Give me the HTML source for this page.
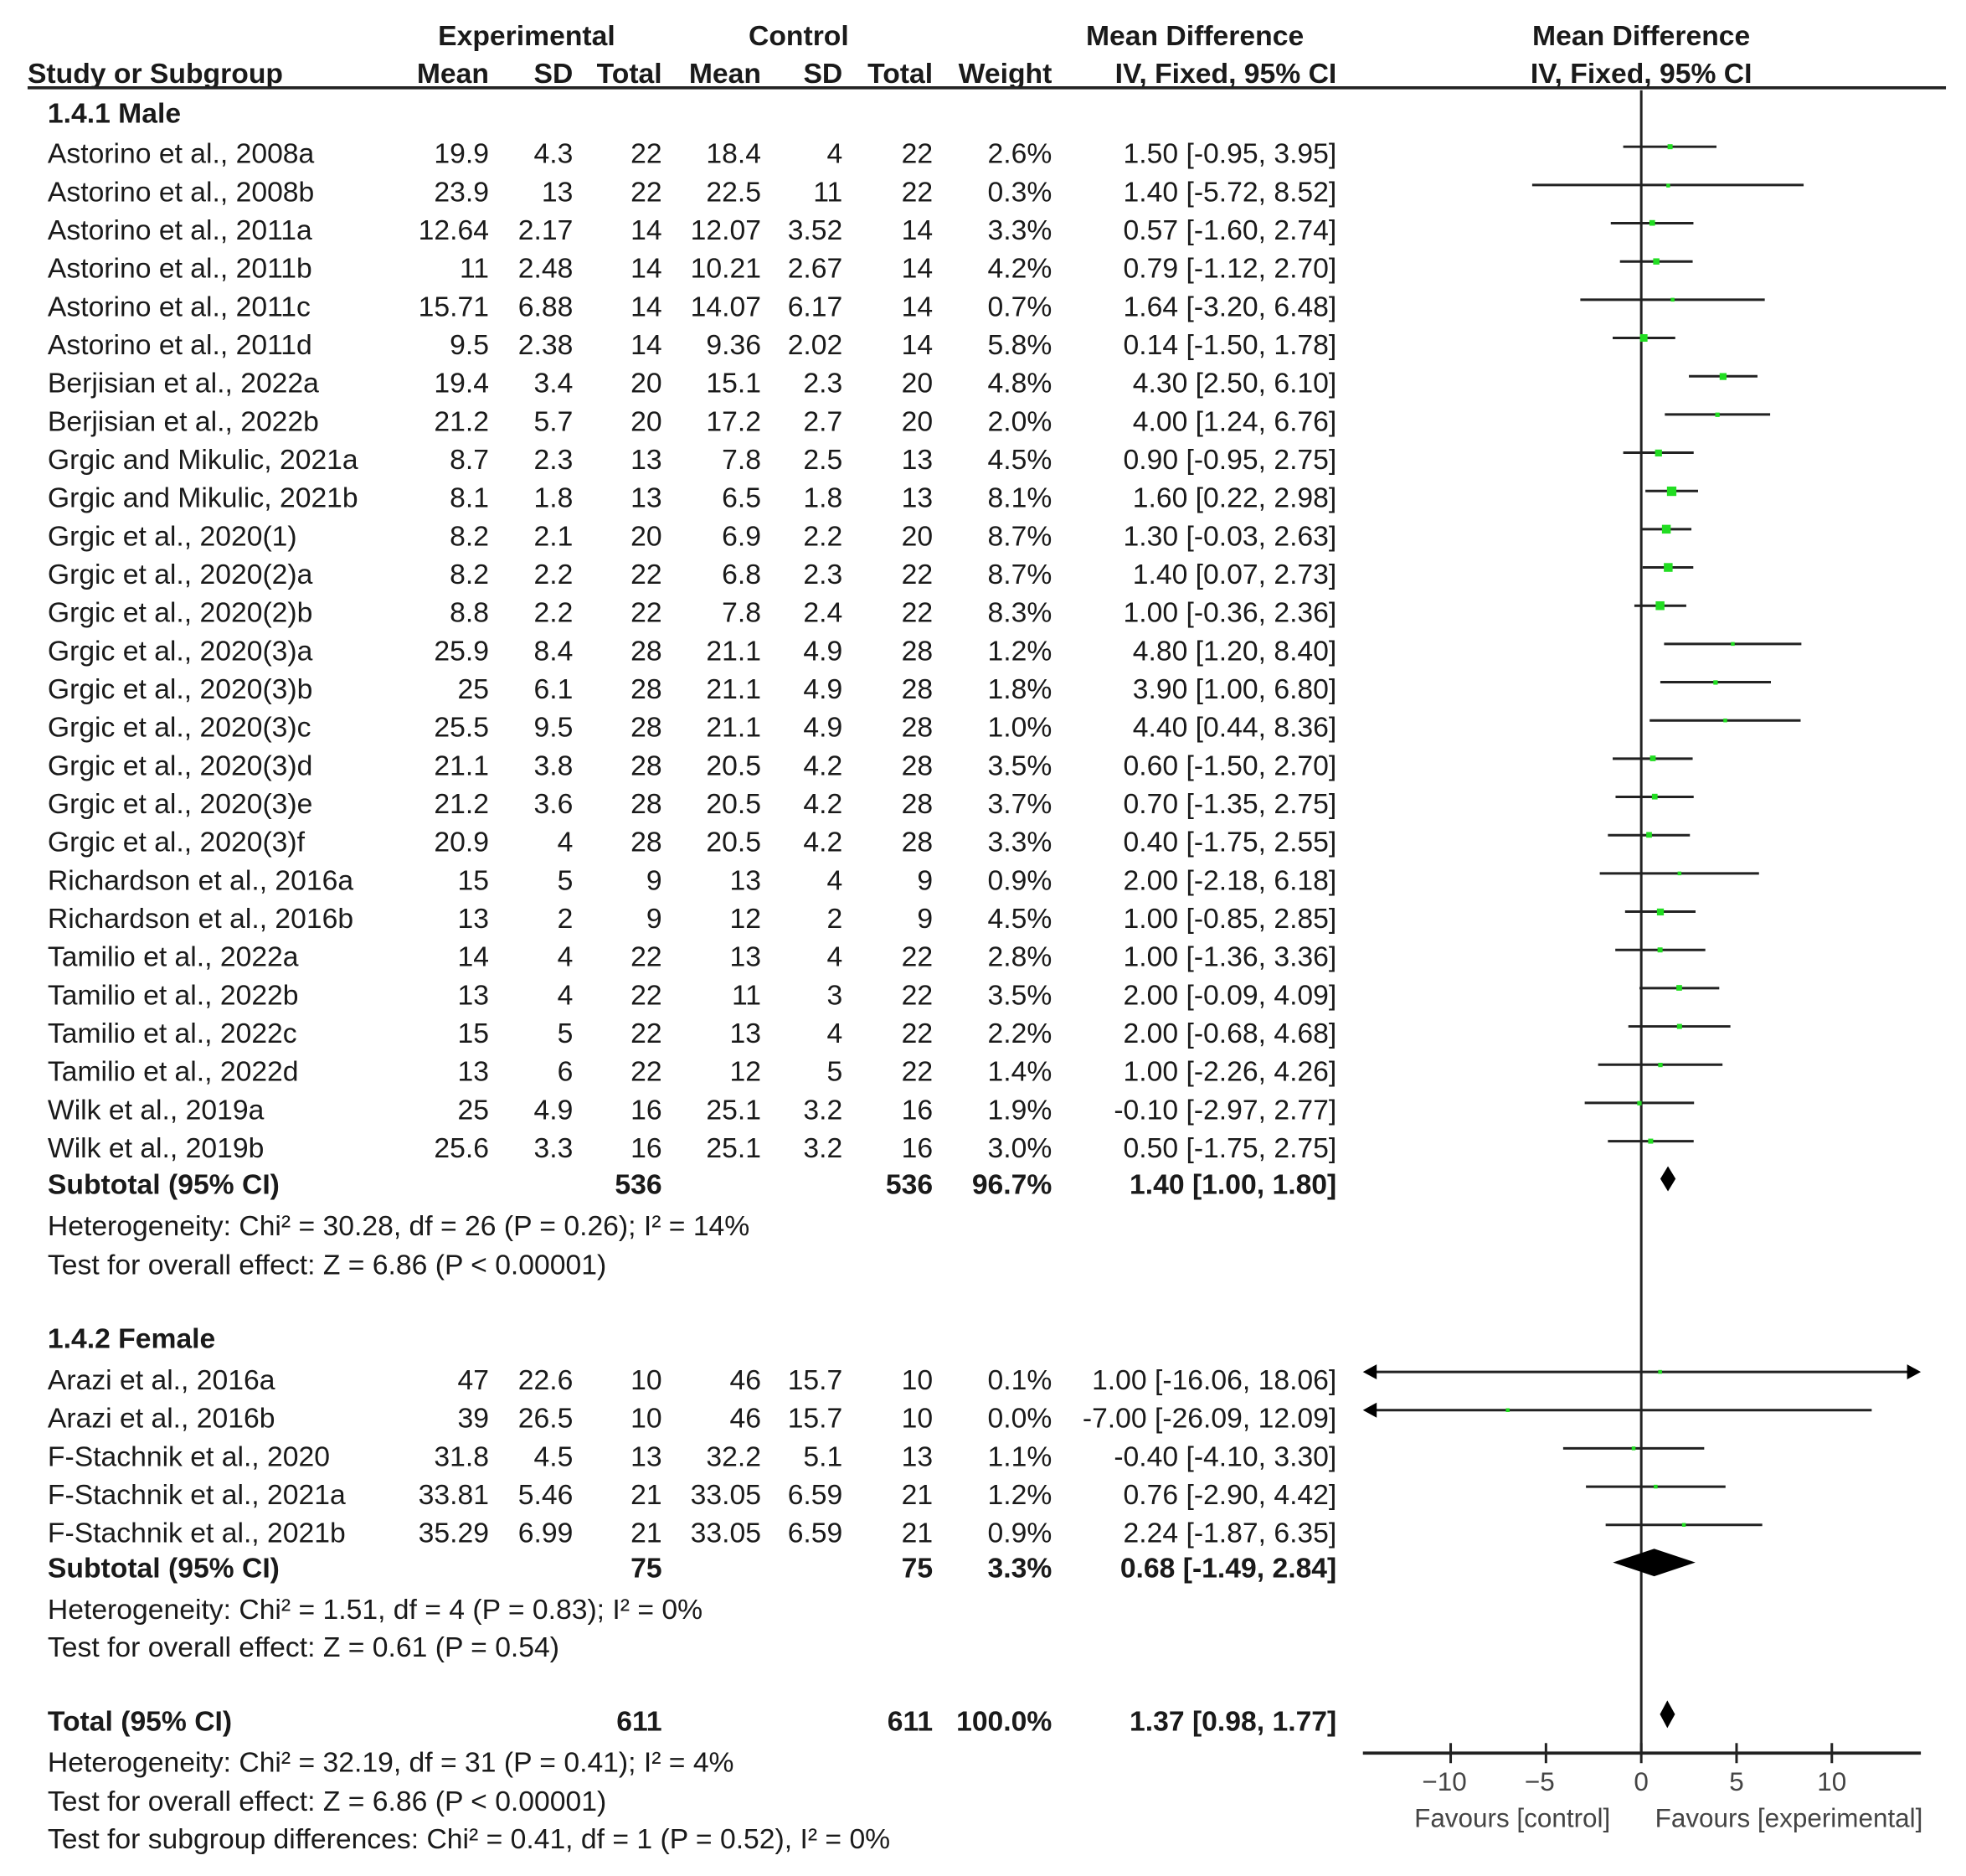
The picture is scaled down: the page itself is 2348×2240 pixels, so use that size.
<!DOCTYPE html>
<html><head><meta charset="utf-8"><style>
html,body{margin:0;padding:0;background:#fff;}
svg{display:block;}
text{font-family:"Liberation Sans",Arial,sans-serif;font-size:22.5px;fill:#1a1a1a;}
.b{font-weight:bold;}
.e{text-anchor:end;}
.m{text-anchor:middle;}
.ln{stroke:#222;stroke-width:2;}
.sq{fill:#22dd22;}
.ax{fill:#444;font-size:21px;}
</style></head><body>
<svg width="2348" height="2240" viewBox="0 0 1568 1496" preserveAspectRatio="none" xmlns="http://www.w3.org/2000/svg">
<text class="b m" x="420" y="36">Experimental</text>
<text class="b m" x="637" y="36">Control</text>
<text class="b m" x="953" y="36">Mean Difference</text>
<text class="b m" x="1309" y="36">Mean Difference</text>
<text class="b" x="22" y="66">Study or Subgroup</text>
<text class="b e" x="390" y="66">Mean</text>
<text class="b e" x="457" y="66">SD</text>
<text class="b e" x="528" y="66">Total</text>
<text class="b e" x="607" y="66">Mean</text>
<text class="b e" x="672" y="66">SD</text>
<text class="b e" x="744" y="66">Total</text>
<text class="b e" x="839" y="66">Weight</text>
<text class="b e" x="1066" y="66">IV, Fixed, 95% CI</text>
<text class="b m" x="1309" y="66">IV, Fixed, 95% CI</text>
<line x1="22" y1="70" x2="1552" y2="70" stroke="#222" stroke-width="2.5"/>
<line x1="1309" y1="72" x2="1309" y2="1398" class="ln"/>
<text class="b" x="38" y="98">1.4.1 Male</text>

<g transform="translate(0,122)"><text x="38" y="8">Astorino et al., 2008a</text><text class="e" x="390" y="8">19.9</text><text class="e" x="457" y="8">4.3</text><text class="e" x="528" y="8">22</text><text class="e" x="607" y="8">18.4</text><text class="e" x="672" y="8">4</text><text class="e" x="744" y="8">22</text><text class="e" x="839" y="8">2.6%</text><text class="e" x="1066" y="8">1.50 [-0.95, 3.95]</text><line class="ln" x1="1294.6" x2="1369" y1="-5" y2="-5"/><rect class="sq" x="1330" y="-7" width="4" height="4"/></g>
<g transform="translate(0,152.5)"><text x="38" y="8">Astorino et al., 2008b</text><text class="e" x="390" y="8">23.9</text><text class="e" x="457" y="8">13</text><text class="e" x="528" y="8">22</text><text class="e" x="607" y="8">22.5</text><text class="e" x="672" y="8">11</text><text class="e" x="744" y="8">22</text><text class="e" x="839" y="8">0.3%</text><text class="e" x="1066" y="8">1.40 [-5.72, 8.52]</text><line class="ln" x1="1222" x2="1438.5" y1="-5" y2="-5"/><rect class="sq" x="1329" y="-6" width="3" height="3"/></g>
<g transform="translate(0,183)"><text x="38" y="8">Astorino et al., 2011a</text><text class="e" x="390" y="8">12.64</text><text class="e" x="457" y="8">2.17</text><text class="e" x="528" y="8">14</text><text class="e" x="607" y="8">12.07</text><text class="e" x="672" y="8">3.52</text><text class="e" x="744" y="8">14</text><text class="e" x="839" y="8">3.3%</text><text class="e" x="1066" y="8">0.57 [-1.60, 2.74]</text><line class="ln" x1="1284.7" x2="1350.6" y1="-5" y2="-5"/><rect class="sq" x="1315.5" y="-7.5" width="4.5" height="4.5"/></g>
<g transform="translate(0,213.5)"><text x="38" y="8">Astorino et al., 2011b</text><text class="e" x="390" y="8">11</text><text class="e" x="457" y="8">2.48</text><text class="e" x="528" y="8">14</text><text class="e" x="607" y="8">10.21</text><text class="e" x="672" y="8">2.67</text><text class="e" x="744" y="8">14</text><text class="e" x="839" y="8">4.2%</text><text class="e" x="1066" y="8">0.79 [-1.12, 2.70]</text><line class="ln" x1="1292" x2="1350" y1="-5" y2="-5"/><rect class="sq" x="1318.5" y="-7.5" width="5" height="5"/></g>
<g transform="translate(0,244)"><text x="38" y="8">Astorino et al., 2011c</text><text class="e" x="390" y="8">15.71</text><text class="e" x="457" y="8">6.88</text><text class="e" x="528" y="8">14</text><text class="e" x="607" y="8">14.07</text><text class="e" x="672" y="8">6.17</text><text class="e" x="744" y="8">14</text><text class="e" x="839" y="8">0.7%</text><text class="e" x="1066" y="8">1.64 [-3.20, 6.48]</text><line class="ln" x1="1260.4" x2="1407.5" y1="-5" y2="-5"/><rect class="sq" x="1332.5" y="-6.5" width="3" height="3"/></g>
<g transform="translate(0,274.5)"><text x="38" y="8">Astorino et al., 2011d</text><text class="e" x="390" y="8">9.5</text><text class="e" x="457" y="8">2.38</text><text class="e" x="528" y="8">14</text><text class="e" x="607" y="8">9.36</text><text class="e" x="672" y="8">2.02</text><text class="e" x="744" y="8">14</text><text class="e" x="839" y="8">5.8%</text><text class="e" x="1066" y="8">0.14 [-1.50, 1.78]</text><line class="ln" x1="1286.2" x2="1336.1" y1="-5" y2="-5"/><rect class="sq" x="1308" y="-8" width="6" height="6"/></g>
<g transform="translate(0,305)"><text x="38" y="8">Berjisian et al., 2022a</text><text class="e" x="390" y="8">19.4</text><text class="e" x="457" y="8">3.4</text><text class="e" x="528" y="8">20</text><text class="e" x="607" y="8">15.1</text><text class="e" x="672" y="8">2.3</text><text class="e" x="744" y="8">20</text><text class="e" x="839" y="8">4.8%</text><text class="e" x="1066" y="8">4.30 [2.50, 6.10]</text><line class="ln" x1="1347" x2="1401.7" y1="-5" y2="-5"/><rect class="sq" x="1371.5" y="-7.5" width="5.5" height="5.5"/></g>
<g transform="translate(0,335.5)"><text x="38" y="8">Berjisian et al., 2022b</text><text class="e" x="390" y="8">21.2</text><text class="e" x="457" y="8">5.7</text><text class="e" x="528" y="8">20</text><text class="e" x="607" y="8">17.2</text><text class="e" x="672" y="8">2.7</text><text class="e" x="744" y="8">20</text><text class="e" x="839" y="8">2.0%</text><text class="e" x="1066" y="8">4.00 [1.24, 6.76]</text><line class="ln" x1="1327.8" x2="1411.8" y1="-5" y2="-5"/><rect class="sq" x="1368" y="-6.5" width="3.5" height="3.5"/></g>
<g transform="translate(0,366)"><text x="38" y="8">Grgic and Mikulic, 2021a</text><text class="e" x="390" y="8">8.7</text><text class="e" x="457" y="8">2.3</text><text class="e" x="528" y="8">13</text><text class="e" x="607" y="8">7.8</text><text class="e" x="672" y="8">2.5</text><text class="e" x="744" y="8">13</text><text class="e" x="839" y="8">4.5%</text><text class="e" x="1066" y="8">0.90 [-0.95, 2.75]</text><line class="ln" x1="1294.6" x2="1350.8" y1="-5" y2="-5"/><rect class="sq" x="1320" y="-7.5" width="5.5" height="5.5"/></g>
<g transform="translate(0,396.5)"><text x="38" y="8">Grgic and Mikulic, 2021b</text><text class="e" x="390" y="8">8.1</text><text class="e" x="457" y="8">1.8</text><text class="e" x="528" y="8">13</text><text class="e" x="607" y="8">6.5</text><text class="e" x="672" y="8">1.8</text><text class="e" x="744" y="8">13</text><text class="e" x="839" y="8">8.1%</text><text class="e" x="1066" y="8">1.60 [0.22, 2.98]</text><line class="ln" x1="1312.3" x2="1354.3" y1="-5" y2="-5"/><rect class="sq" x="1329.5" y="-8.5" width="7.5" height="7.5"/></g>
<g transform="translate(0,427)"><text x="38" y="8">Grgic et al., 2020(1)</text><text class="e" x="390" y="8">8.2</text><text class="e" x="457" y="8">2.1</text><text class="e" x="528" y="8">20</text><text class="e" x="607" y="8">6.9</text><text class="e" x="672" y="8">2.2</text><text class="e" x="744" y="8">20</text><text class="e" x="839" y="8">8.7%</text><text class="e" x="1066" y="8">1.30 [-0.03, 2.63]</text><line class="ln" x1="1308.5" x2="1349" y1="-5" y2="-5"/><rect class="sq" x="1325.5" y="-8.5" width="7" height="7"/></g>
<g transform="translate(0,457.5)"><text x="38" y="8">Grgic et al., 2020(2)a</text><text class="e" x="390" y="8">8.2</text><text class="e" x="457" y="8">2.2</text><text class="e" x="528" y="8">22</text><text class="e" x="607" y="8">6.8</text><text class="e" x="672" y="8">2.3</text><text class="e" x="744" y="8">22</text><text class="e" x="839" y="8">8.7%</text><text class="e" x="1066" y="8">1.40 [0.07, 2.73]</text><line class="ln" x1="1310.1" x2="1350.5" y1="-5" y2="-5"/><rect class="sq" x="1327" y="-8.5" width="7" height="7"/></g>
<g transform="translate(0,488)"><text x="38" y="8">Grgic et al., 2020(2)b</text><text class="e" x="390" y="8">8.8</text><text class="e" x="457" y="8">2.2</text><text class="e" x="528" y="8">22</text><text class="e" x="607" y="8">7.8</text><text class="e" x="672" y="8">2.4</text><text class="e" x="744" y="8">22</text><text class="e" x="839" y="8">8.3%</text><text class="e" x="1066" y="8">1.00 [-0.36, 2.36]</text><line class="ln" x1="1303.5" x2="1344.9" y1="-5" y2="-5"/><rect class="sq" x="1320.5" y="-8.5" width="7" height="7"/></g>
<g transform="translate(0,518.5)"><text x="38" y="8">Grgic et al., 2020(3)a</text><text class="e" x="390" y="8">25.9</text><text class="e" x="457" y="8">8.4</text><text class="e" x="528" y="8">28</text><text class="e" x="607" y="8">21.1</text><text class="e" x="672" y="8">4.9</text><text class="e" x="744" y="8">28</text><text class="e" x="839" y="8">1.2%</text><text class="e" x="1066" y="8">4.80 [1.20, 8.40]</text><line class="ln" x1="1327.2" x2="1436.7" y1="-5" y2="-5"/><rect class="sq" x="1380.5" y="-6.5" width="3" height="3"/></g>
<g transform="translate(0,549)"><text x="38" y="8">Grgic et al., 2020(3)b</text><text class="e" x="390" y="8">25</text><text class="e" x="457" y="8">6.1</text><text class="e" x="528" y="8">28</text><text class="e" x="607" y="8">21.1</text><text class="e" x="672" y="8">4.9</text><text class="e" x="744" y="8">28</text><text class="e" x="839" y="8">1.8%</text><text class="e" x="1066" y="8">3.90 [1.00, 6.80]</text><line class="ln" x1="1324.2" x2="1412.4" y1="-5" y2="-5"/><rect class="sq" x="1366.5" y="-6.5" width="3.5" height="3.5"/></g>
<g transform="translate(0,579.5)"><text x="38" y="8">Grgic et al., 2020(3)c</text><text class="e" x="390" y="8">25.5</text><text class="e" x="457" y="8">9.5</text><text class="e" x="528" y="8">28</text><text class="e" x="607" y="8">21.1</text><text class="e" x="672" y="8">4.9</text><text class="e" x="744" y="8">28</text><text class="e" x="839" y="8">1.0%</text><text class="e" x="1066" y="8">4.40 [0.44, 8.36]</text><line class="ln" x1="1315.7" x2="1436.1" y1="-5" y2="-5"/><rect class="sq" x="1374.5" y="-6.5" width="3" height="3"/></g>
<g transform="translate(0,610)"><text x="38" y="8">Grgic et al., 2020(3)d</text><text class="e" x="390" y="8">21.1</text><text class="e" x="457" y="8">3.8</text><text class="e" x="528" y="8">28</text><text class="e" x="607" y="8">20.5</text><text class="e" x="672" y="8">4.2</text><text class="e" x="744" y="8">28</text><text class="e" x="839" y="8">3.5%</text><text class="e" x="1066" y="8">0.60 [-1.50, 2.70]</text><line class="ln" x1="1286.2" x2="1350" y1="-5" y2="-5"/><rect class="sq" x="1316" y="-7.5" width="4.5" height="4.5"/></g>
<g transform="translate(0,640.5)"><text x="38" y="8">Grgic et al., 2020(3)e</text><text class="e" x="390" y="8">21.2</text><text class="e" x="457" y="8">3.6</text><text class="e" x="528" y="8">28</text><text class="e" x="607" y="8">20.5</text><text class="e" x="672" y="8">4.2</text><text class="e" x="744" y="8">28</text><text class="e" x="839" y="8">3.7%</text><text class="e" x="1066" y="8">0.70 [-1.35, 2.75]</text><line class="ln" x1="1288.5" x2="1350.8" y1="-5" y2="-5"/><rect class="sq" x="1317.5" y="-7.5" width="4.5" height="4.5"/></g>
<g transform="translate(0,671)"><text x="38" y="8">Grgic et al., 2020(3)f</text><text class="e" x="390" y="8">20.9</text><text class="e" x="457" y="8">4</text><text class="e" x="528" y="8">28</text><text class="e" x="607" y="8">20.5</text><text class="e" x="672" y="8">4.2</text><text class="e" x="744" y="8">28</text><text class="e" x="839" y="8">3.3%</text><text class="e" x="1066" y="8">0.40 [-1.75, 2.55]</text><line class="ln" x1="1282.4" x2="1347.8" y1="-5" y2="-5"/><rect class="sq" x="1313" y="-7.5" width="4.5" height="4.5"/></g>
<g transform="translate(0,701.5)"><text x="38" y="8">Richardson et al., 2016a</text><text class="e" x="390" y="8">15</text><text class="e" x="457" y="8">5</text><text class="e" x="528" y="8">9</text><text class="e" x="607" y="8">13</text><text class="e" x="672" y="8">4</text><text class="e" x="744" y="8">9</text><text class="e" x="839" y="8">0.9%</text><text class="e" x="1066" y="8">2.00 [-2.18, 6.18]</text><line class="ln" x1="1275.9" x2="1402.9" y1="-5" y2="-5"/><rect class="sq" x="1338" y="-6.5" width="3" height="3"/></g>
<g transform="translate(0,732)"><text x="38" y="8">Richardson et al., 2016b</text><text class="e" x="390" y="8">13</text><text class="e" x="457" y="8">2</text><text class="e" x="528" y="8">9</text><text class="e" x="607" y="8">12</text><text class="e" x="672" y="8">2</text><text class="e" x="744" y="8">9</text><text class="e" x="839" y="8">4.5%</text><text class="e" x="1066" y="8">1.00 [-0.85, 2.85]</text><line class="ln" x1="1296.1" x2="1352.3" y1="-5" y2="-5"/><rect class="sq" x="1321.5" y="-7.5" width="5.5" height="5.5"/></g>
<g transform="translate(0,762.5)"><text x="38" y="8">Tamilio et al., 2022a</text><text class="e" x="390" y="8">14</text><text class="e" x="457" y="8">4</text><text class="e" x="528" y="8">22</text><text class="e" x="607" y="8">13</text><text class="e" x="672" y="8">4</text><text class="e" x="744" y="8">22</text><text class="e" x="839" y="8">2.8%</text><text class="e" x="1066" y="8">1.00 [-1.36, 3.36]</text><line class="ln" x1="1288.3" x2="1360.1" y1="-5" y2="-5"/><rect class="sq" x="1322" y="-7" width="4" height="4"/></g>
<g transform="translate(0,793)"><text x="38" y="8">Tamilio et al., 2022b</text><text class="e" x="390" y="8">13</text><text class="e" x="457" y="8">4</text><text class="e" x="528" y="8">22</text><text class="e" x="607" y="8">11</text><text class="e" x="672" y="8">3</text><text class="e" x="744" y="8">22</text><text class="e" x="839" y="8">3.5%</text><text class="e" x="1066" y="8">2.00 [-0.09, 4.09]</text><line class="ln" x1="1307.6" x2="1371.2" y1="-5" y2="-5"/><rect class="sq" x="1337" y="-7.5" width="4.5" height="4.5"/></g>
<g transform="translate(0,823.5)"><text x="38" y="8">Tamilio et al., 2022c</text><text class="e" x="390" y="8">15</text><text class="e" x="457" y="8">5</text><text class="e" x="528" y="8">22</text><text class="e" x="607" y="8">13</text><text class="e" x="672" y="8">4</text><text class="e" x="744" y="8">22</text><text class="e" x="839" y="8">2.2%</text><text class="e" x="1066" y="8">2.00 [-0.68, 4.68]</text><line class="ln" x1="1298.7" x2="1380.1" y1="-5" y2="-5"/><rect class="sq" x="1337.5" y="-7" width="4" height="4"/></g>
<g transform="translate(0,854)"><text x="38" y="8">Tamilio et al., 2022d</text><text class="e" x="390" y="8">13</text><text class="e" x="457" y="8">6</text><text class="e" x="528" y="8">22</text><text class="e" x="607" y="8">12</text><text class="e" x="672" y="8">5</text><text class="e" x="744" y="8">22</text><text class="e" x="839" y="8">1.4%</text><text class="e" x="1066" y="8">1.00 [-2.26, 4.26]</text><line class="ln" x1="1274.6" x2="1373.8" y1="-5" y2="-5"/><rect class="sq" x="1322.5" y="-6.5" width="3.5" height="3.5"/></g>
<g transform="translate(0,884.5)"><text x="38" y="8">Wilk et al., 2019a</text><text class="e" x="390" y="8">25</text><text class="e" x="457" y="8">4.9</text><text class="e" x="528" y="8">16</text><text class="e" x="607" y="8">25.1</text><text class="e" x="672" y="8">3.2</text><text class="e" x="744" y="8">16</text><text class="e" x="839" y="8">1.9%</text><text class="e" x="1066" y="8">-0.10 [-2.97, 2.77]</text><line class="ln" x1="1263.9" x2="1351.1" y1="-5" y2="-5"/><rect class="sq" x="1305.8" y="-6.5" width="3.5" height="3.5"/></g>
<g transform="translate(0,915)"><text x="38" y="8">Wilk et al., 2019b</text><text class="e" x="390" y="8">25.6</text><text class="e" x="457" y="8">3.3</text><text class="e" x="528" y="8">16</text><text class="e" x="607" y="8">25.1</text><text class="e" x="672" y="8">3.2</text><text class="e" x="744" y="8">16</text><text class="e" x="839" y="8">3.0%</text><text class="e" x="1066" y="8">0.50 [-1.75, 2.75]</text><line class="ln" x1="1282.4" x2="1350.8" y1="-5" y2="-5"/><rect class="sq" x="1314.5" y="-7" width="4" height="4"/></g>

<text class="b" x="38" y="952">Subtotal (95% CI)</text>
<text class="b e" x="528" y="952">536</text>
<text class="b e" x="744" y="952">536</text>
<text class="b e" x="839" y="952">96.7%</text>
<text class="b e" x="1066" y="952">1.40 [1.00, 1.80]</text>
<polygon points="1324.2,940 1330.3,930 1336.4,940 1330.3,950" fill="#000"/>
<text x="38" y="985">Heterogeneity: Chi² = 30.28, df = 26 (P = 0.26); I² = 14%</text>
<text x="38" y="1016">Test for overall effect: Z = 6.86 (P &lt; 0.00001)</text>

<text class="b" x="38" y="1075">1.4.2 Female</text>
<g transform="translate(0,1100)"><text x="38" y="8">Arazi et al., 2016a</text><text class="e" x="390" y="8">47</text><text class="e" x="457" y="8">22.6</text><text class="e" x="528" y="8">10</text><text class="e" x="607" y="8">46</text><text class="e" x="672" y="8">15.7</text><text class="e" x="744" y="8">10</text><text class="e" x="839" y="8">0.1%</text><text class="e" x="1066" y="8">1.00 [-16.06, 18.06]</text><line class="ln" x1="1095" x2="1524" y1="-6" y2="-6"/><polygon points="1087,-6 1098,-12 1098,0" fill="#000"/><polygon points="1532,-6 1521,-12 1521,0" fill="#000"/><rect class="sq" x="1322.5" y="-7.5" width="3" height="3"/></g>
<g transform="translate(0,1130.5)"><text x="38" y="8">Arazi et al., 2016b</text><text class="e" x="390" y="8">39</text><text class="e" x="457" y="8">26.5</text><text class="e" x="528" y="8">10</text><text class="e" x="607" y="8">46</text><text class="e" x="672" y="8">15.7</text><text class="e" x="744" y="8">10</text><text class="e" x="839" y="8">0.0%</text><text class="e" x="1066" y="8">-7.00 [-26.09, 12.09]</text><line class="ln" x1="1095" x2="1492.8" y1="-6" y2="-6"/><polygon points="1087,-6 1098,-12 1098,0" fill="#000"/><rect class="sq" x="1201" y="-7.5" width="3" height="3"/></g>
<g transform="translate(0,1161)"><text x="38" y="8">F-Stachnik et al., 2020</text><text class="e" x="390" y="8">31.8</text><text class="e" x="457" y="8">4.5</text><text class="e" x="528" y="8">13</text><text class="e" x="607" y="8">32.2</text><text class="e" x="672" y="8">5.1</text><text class="e" x="744" y="8">13</text><text class="e" x="839" y="8">1.1%</text><text class="e" x="1066" y="8">-0.40 [-4.10, 3.30]</text><line class="ln" x1="1246.7" x2="1359.2" y1="-6" y2="-6"/><rect class="sq" x="1301.4" y="-7.5" width="3" height="3"/></g>
<g transform="translate(0,1191.5)"><text x="38" y="8">F-Stachnik et al., 2021a</text><text class="e" x="390" y="8">33.81</text><text class="e" x="457" y="8">5.46</text><text class="e" x="528" y="8">21</text><text class="e" x="607" y="8">33.05</text><text class="e" x="672" y="8">6.59</text><text class="e" x="744" y="8">21</text><text class="e" x="839" y="8">1.2%</text><text class="e" x="1066" y="8">0.76 [-2.90, 4.42]</text><line class="ln" x1="1264.9" x2="1376.2" y1="-6" y2="-6"/><rect class="sq" x="1319" y="-7.5" width="3" height="3"/></g>
<g transform="translate(0,1222)"><text x="38" y="8">F-Stachnik et al., 2021b</text><text class="e" x="390" y="8">35.29</text><text class="e" x="457" y="8">6.99</text><text class="e" x="528" y="8">21</text><text class="e" x="607" y="8">33.05</text><text class="e" x="672" y="8">6.59</text><text class="e" x="744" y="8">21</text><text class="e" x="839" y="8">0.9%</text><text class="e" x="1066" y="8">2.24 [-1.87, 6.35]</text><line class="ln" x1="1280.6" x2="1405.5" y1="-6" y2="-6"/><rect class="sq" x="1341.5" y="-7.5" width="3" height="3"/></g>

<text class="b" x="38" y="1258">Subtotal (95% CI)</text>
<text class="b e" x="528" y="1258">75</text>
<text class="b e" x="744" y="1258">75</text>
<text class="b e" x="839" y="1258">3.3%</text>
<text class="b e" x="1066" y="1258">0.68 [-1.49, 2.84]</text>
<polygon points="1286.4,1246 1319.3,1235 1352.2,1246 1319.3,1257" fill="#000"/>
<text x="38" y="1291">Heterogeneity: Chi² = 1.51, df = 4 (P = 0.83); I² = 0%</text>
<text x="38" y="1321">Test for overall effect: Z = 0.61 (P = 0.54)</text>

<text class="b" x="38" y="1380">Total (95% CI)</text>
<text class="b e" x="528" y="1380">611</text>
<text class="b e" x="744" y="1380">611</text>
<text class="b e" x="839" y="1380">100.0%</text>
<text class="b e" x="1066" y="1380">1.37 [0.98, 1.77]</text>
<polygon points="1323.9,1367 1329.8,1356 1335.9,1367 1329.8,1378" fill="#000"/>
<text x="38" y="1413">Heterogeneity: Chi² = 32.19, df = 31 (P = 0.41); I² = 4%</text>
<text x="38" y="1444">Test for overall effect: Z = 6.86 (P &lt; 0.00001)</text>
<text x="38" y="1474">Test for subgroup differences: Chi² = 0.41, df = 1 (P = 0.52), I² = 0%</text>

<line x1="1087" y1="1398" x2="1532" y2="1398" stroke="#222" stroke-width="2.5"/>
<line class="ln" x1="1157" y1="1390" x2="1157" y2="1406"/>
<line class="ln" x1="1233" y1="1390" x2="1233" y2="1406"/>
<line class="ln" x1="1309" y1="1390" x2="1309" y2="1406"/>
<line class="ln" x1="1385" y1="1390" x2="1385" y2="1406"/>
<line class="ln" x1="1461" y1="1390" x2="1461" y2="1406"/>
<text class="m ax" x="1152" y="1428">−10</text>
<text class="m ax" x="1228" y="1428">−5</text>
<text class="m ax" x="1309" y="1428">0</text>
<text class="m ax" x="1385" y="1428">5</text>
<text class="m ax" x="1461" y="1428">10</text>
<text class="ax" x="1128" y="1457">Favours [control]</text>
<text class="ax" x="1320" y="1457">Favours [experimental]</text>
</svg>
</body></html>
